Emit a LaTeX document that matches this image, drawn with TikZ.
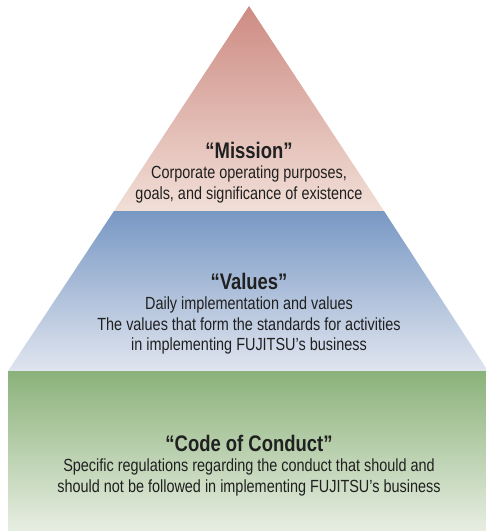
\documentclass[tikz,border=0pt]{standalone}
\usepackage{fontspec}
\setmainfont{Liberation Sans}[FakeStretch=0.82]
\usepackage{tikz}
\usetikzlibrary{positioning}

\definecolor{missiontop}{RGB}{205,139,131}
\definecolor{missionbot}{RGB}{241,223,215}
\definecolor{valuestop}{RGB}{120,152,196}
\definecolor{valuesbot}{RGB}{224,229,239}
\definecolor{conducttop}{RGB}{139,178,122}
\definecolor{conductbot}{RGB}{231,238,226}
\definecolor{txt}{RGB}{32,32,32}

\tikzset{
    title/.style={font=\fontsize{22.5}{24}\selectfont\bfseries, text=txt, inner sep=0pt},
    body/.style={font=\fontsize{17.6}{20.5}\selectfont, text=txt, align=center, inner sep=0pt}
}

\begin{document}
\begin{tikzpicture}[x=1pt, y=-1pt]
    \useasboundingbox (0, 0) rectangle (486, 531);
    % the three layers of the pyramid
    \shade[top color=missiontop, bottom color=missionbot]
        (249, 6) -- (384, 211) -- (114, 211) -- cycle;
    \shade[top color=valuestop, bottom color=valuesbot]
        (114, 211) -- (384, 211) -- (488, 371) -- (8, 371) -- cycle;
    \shade[top color=conducttop, bottom color=conductbot]
        (8, 371) rectangle (486, 531);

    % texts
    \node[title] (mission) at (249, 150) {“Mission”};
    \node[body, below=7.5pt of mission] (missiontxt)
        {Corporate operating purposes,\\goals, and significance of existence};

    \node[title] (values) at (249, 281) {“Values”};
    \node[body, below=7.5pt of values] (valuestxt)
        {Daily implementation and values\\The values that form the standards for activities\\in implementing FUJITSU’s business};

    \node[title] (conduct) at (249, 443) {“Code of Conduct”};
    \node[body, below=7.5pt of conduct] (conducttxt)
        {Specific regulations regarding the conduct that should and\\should not be followed in implementing FUJITSU’s business};
\end{tikzpicture}
\end{document}
